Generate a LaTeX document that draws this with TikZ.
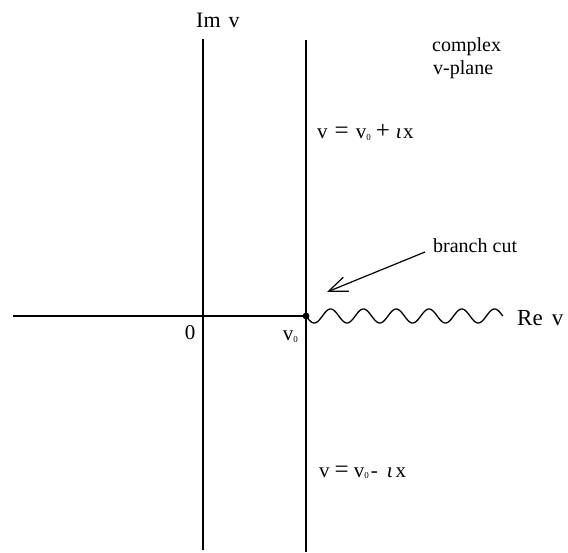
\documentclass[tikz,border=0pt]{standalone}
\usepackage{fontspec}
\setmainfont{Liberation Serif}
\usetikzlibrary{arrows.meta}
\newcommand{\subz}{\raisebox{-1.5pt}{\fontsize{9}{9}\selectfont 0}}
\newcommand{\bigop}[1]{{\fontsize{25}{25}\selectfont #1}}
\begin{document}
\begin{tikzpicture}[x=1pt,y=-1pt,
  axisline/.style={line width=1.3pt},
  lbl/.style={inner sep=0pt,anchor=base west,font=\fontsize{21}{24}\selectfont},
  biglbl/.style={inner sep=0pt,anchor=base west,font=\fontsize{22}{25}\selectfont},
  smalllbl/.style={inner sep=0pt,anchor=base west,font=\fontsize{20}{23}\selectfont}]
\useasboundingbox (0,0) rectangle (568,553);
% axes
\coordinate (hleft) at (13,316);
\coordinate (origin) at (203,316);
\coordinate (imtop) at (203,39);
\coordinate (imbot) at (203,550);
\coordinate (cuttop) at (306,40);
\coordinate (cutbot) at (306,552);
\coordinate (v0pt) at (306,316);
\draw[axisline] (hleft) -- (v0pt);
\draw[axisline] (imtop) -- (imbot);
\draw[axisline] (cuttop) -- (cutbot);
\fill (v0pt) circle (3.4pt);
% branch cut wave
\draw[line width=1.3pt] plot[domain=0:2160,samples=241,smooth] ({306+\x/360*32.8},{316+7*sin(\x)});
% labels
\node[biglbl] (imv) at (196,28) {Im\hspace{8pt}v};
\node[biglbl,font=\fontsize{23}{26}\selectfont] (rev) at (517,326) {Re\hspace{9pt}v};
\node[smalllbl] (cplx) at (432,52) {complex};
\node[smalllbl] (vpl) at (433,75) {v-plane};
\node[smalllbl] (bcut) at (433,253) {branch cut};
\node[lbl,anchor=base] (zero) at (190,340) {0};
\node[lbl,anchor=base east] (vzero) at (298,341) {v\subz};
\node[lbl] (eqtop) at (317,139) {v\hspace{7pt}\bigop{=}\hspace{7pt}v\subz\hspace{5pt}\bigop{+}\hspace{6pt}{\itshape ι}\hspace{1.5pt}x};
\node[lbl] (eqbot) at (319,477) {v\hspace{5pt}\bigop{=}\hspace{5pt}v\subz\hspace{2pt}-\hspace{9pt}{\itshape ι}\hspace{3pt}x};
% arrow
\coordinate (bctail) at (425,252);
\coordinate (bctip) at (327,292);
\draw[line width=1.2pt,-{Straight Barb[length=19pt,width=15pt,line width=1.2pt]}] (bctail) -- (bctip);
\end{tikzpicture}
\end{document}
